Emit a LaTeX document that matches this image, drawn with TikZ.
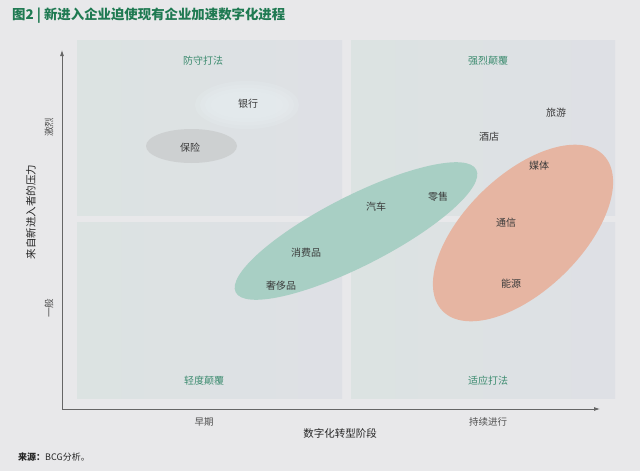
\documentclass[tikz,border=0pt]{standalone}
\usepackage{fontspec}
\setmainfont{Noto Sans CJK SC}
\usetikzlibrary{shapes.geometric,arrows.meta}
\definecolor{bgc}{HTML}{E8E8EA}
\definecolor{panelL}{HTML}{DCE3E2}
\definecolor{panelR}{HTML}{DEE0E5}
\definecolor{titlec}{HTML}{1F7A52}
\definecolor{quadc}{HTML}{3D8C70}
\definecolor{itemc}{HTML}{3A3A3A}
\definecolor{tickc}{HTML}{505050}
\definecolor{axisc}{HTML}{666666}
\definecolor{greenblob}{HTML}{A8CFC4}
\definecolor{orangeblob}{HTML}{E6B5A2}
\definecolor{grayblob}{HTML}{CDD0D1}
\definecolor{glowblob}{HTML}{EAF1F4}
\begin{document}
\begin{tikzpicture}[x=1pt,y=-1pt,
  panel/.style={draw=none,left color=panelL,right color=panelR},
  blob/.style={ellipse,inner sep=0pt,draw=none},
  glowlayer/.style={ellipse,inner sep=0pt,draw=none,fill=glowblob,fill opacity=0.22},
  item/.style={font=\fontsize{10}{12}\selectfont,text=itemc,inner sep=0pt},
  quad/.style={font=\fontsize{10}{12}\selectfont,text=quadc,inner sep=0pt},
  tick/.style={font=\fontsize{9.5}{11}\selectfont,text=tickc,inner sep=0pt},
  axislabel/.style={font=\fontsize{10.5}{12}\selectfont,text=black!85,inner sep=0pt},
  axisline/.style={draw=axisc,line width=0.8pt,-{Latex[length=6pt,width=4pt]}}]
\fill[bgc] (0,0) rectangle (640,471);
\useasboundingbox (0,0) rectangle (640,471);
% title
\node[anchor=west,inner sep=0pt,font=\bfseries\fontsize{13.4}{15}\selectfont,text=titlec] (title) at (12,16) {图2 | 新进入企业迫使现有企业加速数字化进程};
% panels
\shade[panel] (77,40) rectangle (342,215);
\shade[panel] (351,40) rectangle (615,215);
\shade[panel] (77,222) rectangle (342,398);
\shade[panel] (351,222) rectangle (615,398);
% blobs
\node[glowlayer,minimum width=104pt,minimum height=48pt] (glowA) at (247,105) {};
\node[glowlayer,minimum width=94pt,minimum height=41pt] (glowB) at (247,105) {};
\node[glowlayer,minimum width=84pt,minimum height=34pt] (glowC) at (247,105) {};
\node[glowlayer,minimum width=72pt,minimum height=27pt] (glowD) at (247,105) {};
\node[blob,fill=grayblob,minimum width=91pt,minimum height=34pt] (grayb) at (191.5,146) {};
\node[blob,fill=greenblob,minimum width=270pt,minimum height=70pt,rotate=27] (greenb) at (356,231) {};
\node[blob,fill=orangeblob,minimum width=224pt,minimum height=116pt,rotate=44] (orangeb) at (523,233) {};
% axes
\coordinate (origin) at (62,409);
\coordinate (ytop) at (62,50);
\coordinate (xend) at (600,409);
\draw[axisline] (origin) -- (ytop);
\draw[axisline] (origin) -- (xend);
% quadrant labels
\node[quad] (q1) at (203,61) {防守打法};
\node[quad] (q2) at (488,61) {强烈颠覆};
\node[quad] (q3) at (204,381) {轻度颠覆};
\node[quad] (q4) at (488,381) {适应打法};
% items
\node[item] (bank) at (248,104) {银行};
\node[item] (ins) at (190,148) {保险};
\node[item] (travel) at (556,113) {旅游};
\node[item] (hotel) at (489,137) {酒店};
\node[item] (media) at (539,166) {媒体};
\node[item] (retail) at (438,197) {零售};
\node[item] (auto) at (376,207) {汽车};
\node[item] (telecom) at (506,223) {通信};
\node[item] (cons) at (306,253) {消费品};
\node[item] (lux) at (281,286) {奢侈品};
\node[item] (energy) at (511,284) {能源};
% ticks
\node[tick,rotate=90] (high) at (49,127) {激烈};
\node[tick,rotate=90] (mid) at (49,308) {一般};
\node[tick] (early) at (204,422) {早期};
\node[tick] (ongoing) at (488,422) {持续进行};
% axis labels
\node[axislabel,rotate=90] (ylab) at (31,212) {来自新进入者的压力};
\node[axislabel] (xlab) at (340,433) {数字化转型阶段};
% source
\node[anchor=west,inner sep=0pt,font=\fontsize{9}{11}\selectfont,text=black!85] (src) at (18,457) {\textbf{来源：}BCG分析。};
\end{tikzpicture}
\end{document}
